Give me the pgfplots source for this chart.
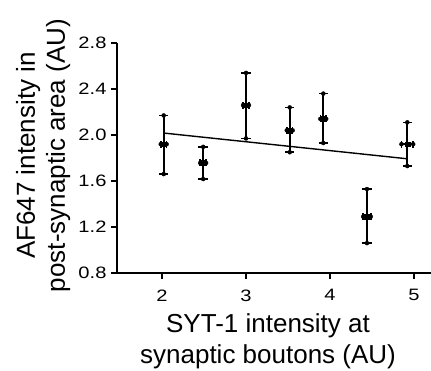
\documentclass[border=0pt]{standalone}
\usepackage{graphicx}
\usepackage{pgfplots}
\pgfplotsset{compat=1.18}
\usepackage{fontspec}
\setmainfont{Liberation Sans}
\newcommand{\tl}[1]{\scalebox{1.22}[1]{#1}}
\begin{document}
\begin{tikzpicture}
\begin{axis}[
  at={(0pt,0pt)}, anchor=south west,
  scale only axis, width=314pt, height=230pt,
  xmin=1.4643, xmax=5.202, ymin=0.8, ymax=2.8,
  axis x line*=bottom, axis y line*=left,
  axis line style={line width=1.3pt, black},
  tick style={line width=1.3pt, black},
  tick align=outside, major tick length=6pt,
  xtick={2,3,4,5}, ytick={0.8,1.2,1.6,2.0,2.4,2.8},
  xticklabels={\tl{2},\tl{3},\tl{4},\tl{5}},
  yticklabels={\tl{0.8},\tl{1.2},\tl{1.6},\tl{2.0},\tl{2.4},\tl{2.8}},
  xticklabel style={font=\fontsize{16.5}{18}\selectfont, yshift=-7pt},
  yticklabel style={font=\fontsize{16.5}{18}\selectfont, xshift=-1pt},
  clip=false,
  xlabel={SYT-1 intensity at\\synaptic boutons (AU)},
  xlabel style={at={(axis description cs:0.481,0)}, yshift=-90pt, anchor=base, align=center, inner sep=0pt, font=\fontsize{26}{31}\selectfont},
  ylabel={AF647 intensity in\\post-synaptic area (AU)},
  ylabel style={at={(axis description cs:-0.1656,0.511)}, anchor=base, align=center, inner sep=0pt, font=\fontsize{26}{30}\selectfont},
]
\addplot[black, line width=1.4pt] coordinates {(2.02,2.017) (4.91,1.794)};
% horizontal error bars
\addplot[black, only marks, mark=none,
  error bars/x dir=both, error bars/x explicit, error bars/error mark=none,
  error bars/error bar style={black, line width=1.7pt}]
  table[x=x, y=y, x error=ex] {
x y ex
2.02 1.92 0.035
2.49 1.757 0.035
3.00 2.26 0.035
3.52 2.04 0.035
3.92 2.14 0.035
4.44 1.29 0.045
4.92 1.92 0.07
};
% vertical caps at the ends of the horizontal bars
\addplot[black, only marks, mark=none,
  error bars/y dir=both, error bars/y fixed=0.03, error bars/error mark=none,
  error bars/error bar style={black, line width=1.7pt}]
  table[x=x, y=y] {
x y
1.985 1.92
2.055 1.92
2.455 1.757
2.525 1.757
2.965 2.26
3.035 2.26
3.485 2.04
3.555 2.04
3.885 2.14
3.955 2.14
4.395 1.29
4.485 1.29
4.85 1.92
4.99 1.92
};
% vertical error bars
\addplot[black, only marks, mark=square*, mark size=2.4pt,
  error bars/y dir=both, error bars/y explicit, error bars/error mark=none,
  error bars/error bar style={black, line width=1.7pt}]
  table[x=x, y=y, y error plus=ep, y error minus=em] {
x y ep em
2.02 1.92 0.25 0.26
2.49 1.757 0.14 0.14
3.00 2.26 0.28 0.29
3.52 2.04 0.20 0.19
3.92 2.14 0.22 0.21
4.44 1.29 0.24 0.23
4.92 1.92 0.19 0.19
};
% horizontal caps at the ends of the vertical bars
\addplot[black, only marks, mark=none,
  error bars/x dir=both, error bars/x fixed=0.056, error bars/error mark=none,
  error bars/error bar style={black, line width=1.7pt}]
  table[x=x, y=y] {
x y
2.02 2.17
2.02 1.66
2.49 1.897
2.49 1.617
3.00 2.54
3.00 1.97
3.52 2.24
3.52 1.85
3.92 2.36
3.92 1.93
4.44 1.53
4.44 1.06
4.92 2.11
4.92 1.73
};
\end{axis}
\pgfresetboundingbox
\path (-117pt,-97pt) rectangle (314pt,273pt);
\end{tikzpicture}
\end{document}
